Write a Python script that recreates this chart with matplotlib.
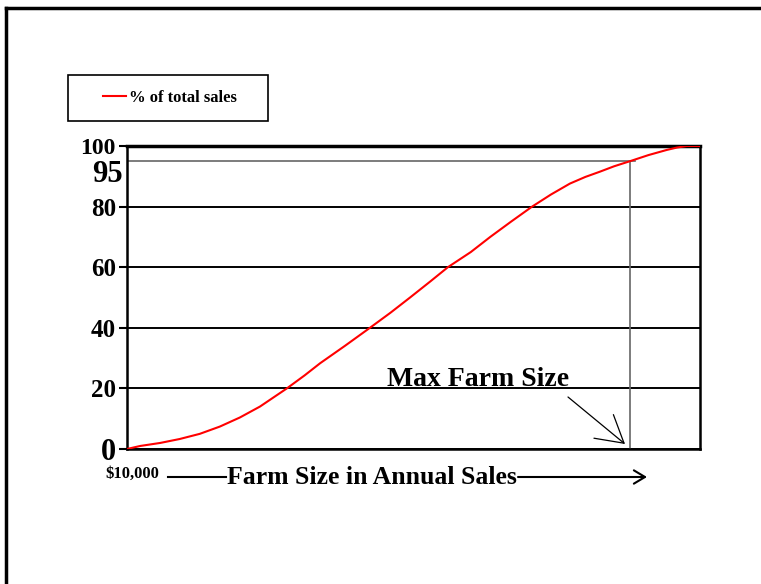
import matplotlib.pyplot as plt
from matplotlib.lines import Line2D
from matplotlib.patches import Rectangle

# Cumulative share of sales vs. farm size (x as % of the axis span)
farm_rank = [0, 2.3, 5.8, 9.2, 12.7, 16.2, 19.7, 23.2, 27.9, 31, 33.7, 38,
             42.4, 46, 49.4, 53, 56, 60, 63.4, 67, 70.7, 74, 77.3, 80, 82.5,
             85, 87.8, 91, 94.2, 96, 97.7, 100]
pct_sales = [0, 1.0, 2.0, 3.3, 5.0, 7.4, 10.4, 14.0, 20, 24.3, 28.3, 34,
             40, 45, 50, 55.4, 60, 65, 70, 75, 80, 84, 87.6, 89.8, 91.5,
             93.3, 95, 97, 98.7, 99.5, 100, 100]
y_ticks = [0, 20, 40, 60, 80, 100]
max_rank = 87.8
max_pct = 95

FONT = dict(family='Liberation Serif', fontweight='bold')

W, H = 761, 584
fig = plt.figure(figsize=(W / 100, H / 100), dpi=100)
ax = fig.add_axes([127 / W, 1 - 449 / H, 573 / W, 303 / H])

ax.plot(farm_rank, pct_sales, color='red', lw=1.5, label='% of total sales',
        zorder=3)

# 95% guide lines
ax.plot([0, max_rank + 0.8], [max_pct, max_pct], color='#666666', lw=1.2)
ax.plot([max_rank, max_rank], [0, max_pct], color='#666666', lw=1.2)

ax.set_xlim(0, 100)
ax.set_ylim(0, 100)
ax.set_xticks([])
ax.set_yticks(y_ticks)
ax.set_yticklabels([str(v) for v in y_ticks], fontsize=18, **FONT)
ax.get_yticklabels()[0].set_fontsize(22)
ax.get_yticklabels()[-1].set_fontsize(17)
ax.tick_params(axis='y', length=6, width=1.5, pad=2)
ax.grid(axis='y', color='black', lw=1.4)
ax.set_axisbelow(True)
for side in ['left', 'bottom', 'right']:
    ax.spines[side].set_linewidth(1.8)
ax.spines['top'].set_linewidth(2.5)

ax.text(-0.007, max_pct - 4.3, '95', transform=ax.get_yaxis_transform(),
        ha='right', va='center', fontsize=22, **FONT)

# Max farm size note
fig.text(387 / W, 1 - 386 / H, 'Max Farm Size', fontsize=20, va='baseline',
         **FONT)
ax.annotate('', xy=(625 / W, 1 - 444 / H), xytext=(568 / W, 1 - 397 / H),
            xycoords='figure fraction', textcoords='figure fraction',
            arrowprops=dict(arrowstyle='->,head_length=0.95,head_width=0.55',
                            mutation_scale=20, lw=0.9, color='black',
                            shrinkA=0, shrinkB=0))

# x-axis caption
fig.text(105 / W, 1 - 474 / H, '$10,000', fontsize=12, va='center', **FONT)
fig.text(227 / W, 1 - 478 / H, 'Farm Size in Annual Sales', fontsize=18.5,
         va='center', **FONT)
fig.add_artist(Line2D([168 / W, 226 / W], [1 - 477 / H] * 2, color='black',
                      lw=1.5))
ax.annotate('', xy=(647 / W, 1 - 477 / H), xytext=(518 / W, 1 - 477 / H),
            xycoords='figure fraction', textcoords='figure fraction',
            arrowprops=dict(arrowstyle='->,head_length=0.5,head_width=0.3',
                            mutation_scale=16, lw=1.5, color='black',
                            shrinkA=0, shrinkB=0))

# legend box
fig.add_artist(Rectangle((68 / W, 1 - 121 / H), 200 / W, 46 / H,
                         transform=fig.transFigure, fill=False,
                         edgecolor='black', lw=1.2))
fig.legend(loc='center', bbox_to_anchor=(170 / W, 1 - 98 / H), frameon=False,
           prop={'family': 'Liberation Serif', 'size': 12, 'weight': 'bold'},
           handlelength=1.4, handletextpad=0.2)

# outer frame (left and top edges)
fig.add_artist(Line2D([6 / W, 6 / W], [0, 1 - 8 / H], color='black', lw=2.5))
fig.add_artist(Line2D([6 / W, 1], [1 - 8 / H] * 2, color='black', lw=2.5))

fig.savefig('out.png', dpi=100)
